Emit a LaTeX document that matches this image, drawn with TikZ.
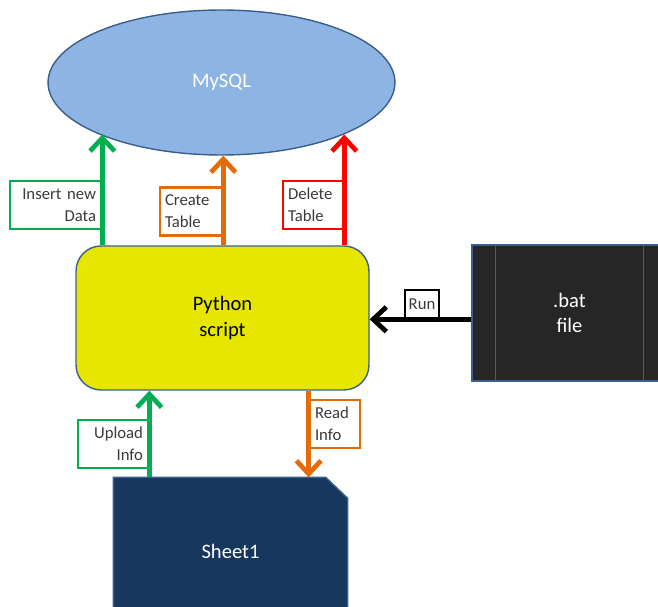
\documentclass[tikz,border=0pt]{standalone}
\usepackage{fontspec}
\setmainfont{Carlito}
\usetikzlibrary{shapes.geometric,arrows.meta,backgrounds}

\definecolor{dbfill}{HTML}{8EB4E3}
\definecolor{edgeblue}{HTML}{3B5F8C}
\definecolor{pyfill}{HTML}{E6E600}
\definecolor{batfill}{HTML}{262626}
\definecolor{sheetfill}{HTML}{17375E}
\definecolor{flowgreen}{HTML}{00B050}
\definecolor{floworange}{HTML}{E36C09}
\definecolor{flowred}{HTML}{FF0000}
\definecolor{lbltext}{HTML}{3A3A3A}

\begin{document}
\begin{tikzpicture}[x=0.02cm, y=-0.02cm,
    main/.style = {draw=edgeblue, line width=0.8pt, align=center, inner sep=0pt,
                   font=\fontsize{11.7}{14.5}\selectfont},
    lbl/.style = {draw=#1, line width=1.5pt, fill=white, text=lbltext, inner sep=0.1cm,
                  minimum height=0.96cm, font=\fontsize{9.5}{12.5}\selectfont},
    flow/.style = {draw=#1, line width=2.7pt, -{Straight Barb[length=7.5pt,width=14pt]}}]
    \clip (0,0) rectangle (658,607);

    \node[main, ellipse, fill=dbfill, text=white, minimum width=6.94cm, minimum height=2.9cm] (mysql) at (221.5,82.5) {MySQL};
    \node[main, rounded corners=0.5cm, fill=pyfill, minimum width=5.86cm, minimum height=2.88cm] (py) at (222.5,318) {Python\\script};
    \node[main, fill=batfill, text=white, minimum width=3.9cm, minimum height=2.72cm] (bat) at (569.5,313) {.bat\\file};
    \draw[edgeblue, line width=0.8pt] ([xshift=0.48cm]bat.north west) -- ([xshift=0.48cm]bat.south west);
    \draw[edgeblue, line width=0.8pt] ([xshift=-0.48cm]bat.north east) -- ([xshift=-0.48cm]bat.south east);
    \node[main, draw=none, text=white, minimum width=4.66cm, minimum height=2.92cm] (sheet) at (230.5,551) {Sheet1};
    \begin{scope}[on background layer]
        \filldraw[fill=sheetfill, draw=edgeblue, line width=0.8pt] (sheet.south west) |- ([xshift=-0.44cm]sheet.north east)
            -- ([yshift=-0.42cm]sheet.north east) -- (sheet.south east) -- cycle;
    \end{scope}

    % labels
    \node[lbl=flowgreen, text width=1.62cm, align=right] (ins) at (55.5,205) {Insert new\\Data};
    \node[lbl=floworange, text width=1.04cm, align=left] (crt) at (191,211.5) {Create\\Table};
    \node[lbl=flowred, text width=1.0cm, align=left] (del) at (313,205) {Delete\\Table};
    \node[lbl=flowgreen, text width=1.2cm, align=right] (upl) at (113,444) {Upload\\Info};
    \node[lbl=floworange, text width=0.8cm, align=left] (rd) at (335,424) {Read\\Info};
    \node[lbl=black, text width=0.68cm, minimum height=0.56cm, inner sep=0pt, align=center] (run) at (422,304) {Run};

    % connectors
    \draw[flow=flowgreen] (ins.east |- py.north) -- (ins.east |- mysql.203);
    \draw[flow=floworange] (crt.east |- py.north) -- (crt.east |- mysql.south);
    \draw[flow=flowred] (del.east |- py.north) -- (del.east |- mysql.337);
    \draw[flow=flowgreen] (upl.east |- sheet.north) -- (upl.east |- py.south);
    \draw[flow=floworange] (rd.west |- py.south) -- (rd.west |- sheet.north);
    \draw[flow=black] (bat.west |- run.south) -- (py.east |- run.south);
\end{tikzpicture}
\end{document}
